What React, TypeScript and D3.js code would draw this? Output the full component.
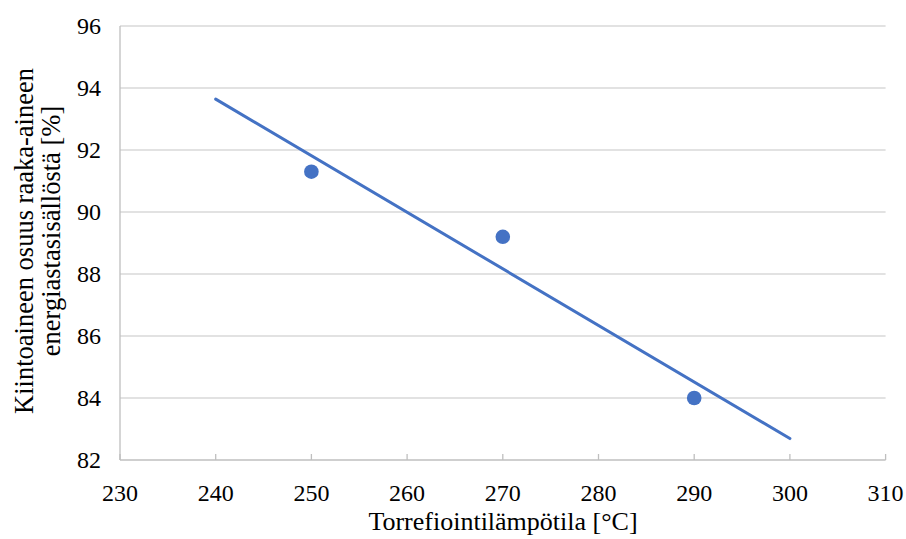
import * as d3 from "d3";

// data
const temps = [250, 270, 290];
const shares = [91.3, 89.2, 84.0];
const xTicks = [230, 240, 250, 260, 270, 280, 290, 300, 310];
const yTicks = [82, 84, 86, 88, 90, 92, 94, 96];
const trendRange = [240, 300];

const W = 906;
const H = 539;
const margin = { top: 26, right: 20, bottom: 79, left: 120 };
const blue = "#4472C4";
const grid = "#d9d9d9";
const font = "'Liberation Serif', 'Times New Roman', serif";

export default function App() {
  const x = d3
    .scaleLinear()
    .domain([230, 310])
    .range([margin.left, W - margin.right - 0.4]);
  const y = d3
    .scaleLinear()
    .domain([82, 96])
    .range([H - margin.bottom, margin.top]);

  // linear trendline (least squares) over the points
  const mx = d3.mean(temps)!;
  const my = d3.mean(shares)!;
  const slope =
    d3.sum(temps, (t, i) => (t - mx) * (shares[i] - my)) /
    d3.sum(temps, (t) => (t - mx) ** 2);
  const fit = (t: number) => my + slope * (t - mx);
  const line = d3
    .line<number>()
    .x((t) => x(t))
    .y((t) => y(fit(t)));

  const y0 = y(82);

  return (
    <svg
      width={W}
      height={H}
      style={{ position: "absolute", left: 0, top: 0, background: "#fff" }}
      fontFamily={font}
    >
      {yTicks.map((t) => (
        <g key={t}>
          {t !== 82 && (
            <line x1={x(230)} x2={x(310)} y1={y(t)} y2={y(t)} stroke={grid} strokeWidth={1.3} />
          )}
          <text x={101} y={y(t)} dy="0.34em" textAnchor="end" fontSize={24} fill="#000">
            {t}
          </text>
        </g>
      ))}
      <line x1={x(230)} x2={x(230)} y1={y(96)} y2={y0} stroke="#bfbfbf" strokeWidth={1.3} />
      <line x1={x(230)} x2={x(310)} y1={y0} y2={y0} stroke="#bfbfbf" strokeWidth={1.3} />
      {xTicks.map((t) => (
        <g key={t}>
          <line x1={x(t)} x2={x(t)} y1={y0} y2={y0 - 6} stroke="#bfbfbf" strokeWidth={1.3} />
          <text x={x(t)} y={492.5} dy="0.34em" textAnchor="middle" fontSize={24} fill="#000">
            {t}
          </text>
        </g>
      ))}
      <path d={line(trendRange) ?? ""} fill="none" stroke={blue} strokeWidth={3} strokeLinecap="round" />
      {temps.map((t, i) => (
        <circle key={t} cx={x(t)} cy={y(shares[i])} r={7.3} fill={blue} />
      ))}
      <text x={503} y={530} textAnchor="middle" fontSize={26} fill="#000">
        Torrefiointilämpötila [°C]
      </text>
      <g transform="rotate(-90)">
        <text x={-241} y={33} textAnchor="middle" fontSize={26.5} fill="#000">
          Kiintoaineen osuus raaka-aineen
        </text>
        <text x={-231} y={60} textAnchor="middle" fontSize={26.5} fill="#000">
          energiastasisällöstä [%]
        </text>
      </g>
    </svg>
  );
}
